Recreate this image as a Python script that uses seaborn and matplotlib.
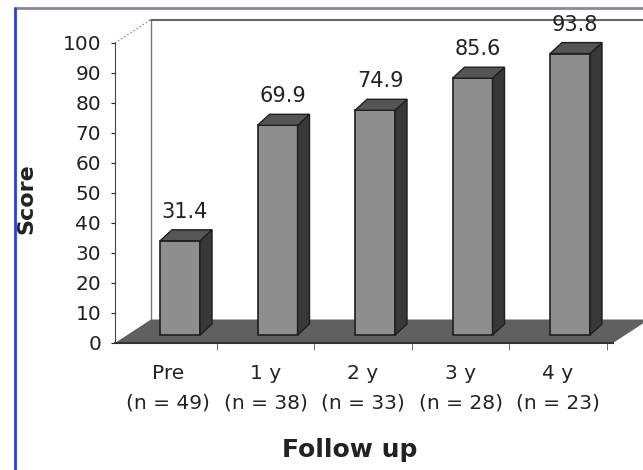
import pandas as pd
import seaborn as sns
import matplotlib.pyplot as plt
from matplotlib.patches import Polygon
from matplotlib.transforms import ScaledTranslation
from matplotlib.lines import Line2D

# data
periods = ['Pre', '1 y', '2 y', '3 y', '4 y']
n_patients = [49, 38, 33, 28, 23]
scores = [31.4, 69.9, 74.9, 85.6, 93.8]

tick_labels = [f'{p}\n(n = {n})' for p, n in zip(periods, n_patients)]
df = pd.DataFrame({'period': tick_labels, 'score': scores})

sns.set_style('white')
plt.rcParams['font.family'] = ['DejaVu Sans']

fig = plt.figure(figsize=(6.43, 4.70), dpi=100)
ax = fig.add_axes([115 / 643, 127 / 470, (613 - 115) / 643, 300 / 470])

# pixel -> data unit factors (97.5 px per category, 3 px per score point)
px_x = 1 / 97.5
px_y = 1 / 3.0
xl, xr = -0.544, 4.564
floor_dx, floor_dy = 36 * px_x, 23.5 * px_y
bar_dx, bar_dy = 12 * px_x, 11 * px_y

front_col = '#8e8e8e'
side_col = '#383838'
top_col = '#555555'
floor_col = '#606060'

# bars (front faces)
sns.barplot(data=df, x='period', y='score', color=front_col, saturation=1,
            width=0.41, errorbar=None, edgecolor='#1e1e1e', linewidth=1.2,
            ax=ax)
ax.set_xlim(xl, xr)
ax.set_ylim(0, 100)

# bars stand a bit back on the floor
bar_off = ScaledTranslation(12 / 100, 8 / 100, fig.dpi_scale_trans)
bar_trans = ax.transData + bar_off

for p, v in zip(ax.patches, scores):
    p.set_transform(bar_trans)
    p.set_clip_on(False)
    x0, w, h = p.get_x(), p.get_width(), p.get_height()
    side = Polygon([(x0 + w, 0), (x0 + w + bar_dx, bar_dy),
                    (x0 + w + bar_dx, h + bar_dy), (x0 + w, h)],
                   closed=True, facecolor=side_col, edgecolor='#1e1e1e',
                   linewidth=1, transform=bar_trans, clip_on=False, zorder=1.1)
    top = Polygon([(x0, h), (x0 + w, h), (x0 + w + bar_dx, h + bar_dy),
                   (x0 + bar_dx, h + bar_dy)],
                  closed=True, facecolor=top_col, edgecolor='#1e1e1e',
                  linewidth=1, transform=bar_trans, clip_on=False, zorder=1.1)
    ax.add_patch(side)
    ax.add_patch(top)
    ax.annotate(f'{v:.1f}', xy=(x0 + w / 2, h), xycoords=bar_trans,
                xytext=(5, 29), textcoords='offset pixels', ha='center',
                va='center', fontsize=15, color='#222222',
                annotation_clip=False)

# floor
floor = Polygon([(xl, 0), (xr, 0), (xr + floor_dx, floor_dy),
                 (xl + floor_dx, floor_dy)], closed=True,
                facecolor=floor_col, edgecolor='none', clip_on=False,
                zorder=0.5)
ax.add_patch(floor)

# back wall
wall_x = xl + floor_dx
ax.plot([wall_x, wall_x], [floor_dy, 100 + floor_dy], color='#777777',
        linewidth=1, clip_on=False, zorder=0.4)
ax.plot([wall_x, xr + floor_dx], [100 + floor_dy, 100 + floor_dy],
        color='#666666', linewidth=1.5, clip_on=False, zorder=0.4)
ax.plot([xl, wall_x], [100, 100 + floor_dy], color='#888888', linewidth=1,
        linestyle=':', clip_on=False, zorder=0.4)

# axes styling
for s in ['top', 'right']:
    ax.spines[s].set_visible(False)
ax.spines['left'].set_color('#444444')
ax.spines['bottom'].set_color('#333333')
ax.spines['bottom'].set_linewidth(1.5)
ax.set_yticks(range(0, 101, 10))
ax.tick_params(axis='y', direction='out', length=3, pad=7, labelsize=14.5,
               colors='#222222', left=True)
ax.tick_params(axis='x', which='major', length=0, pad=15, labelsize=14.5,
               colors='#222222')
ax.set_xticks([0.5, 1.5, 2.5, 3.5, 4.5], minor=True)
ax.tick_params(axis='x', which='minor', direction='out', length=5,
               color='#555555', bottom=True)
for lab in ax.get_xticklabels():
    lab.set_linespacing(1.7)

ax.set_xlabel('Follow up', fontsize=18, fontweight='bold', color='#222222')
ax.set_ylabel('Score', fontsize=16, fontweight='bold', color='#222222')
ax.xaxis.set_label_coords((350 - 115) / 498, (343 - 438) / 300)
ax.yaxis.set_label_coords(-0.157, 0.48)

# scan frame
fig.add_artist(Line2D([15 / 643, 1], [1 - 8 / 470, 1 - 8 / 470],
                      transform=fig.transFigure, color='#7e8aa8',
                      linewidth=2))
fig.add_artist(Line2D([15 / 643, 15 / 643], [0, 1 - 8 / 470],
                      transform=fig.transFigure, color='#2e3fd0',
                      linewidth=2))

fig.savefig('out.png', dpi=100)
